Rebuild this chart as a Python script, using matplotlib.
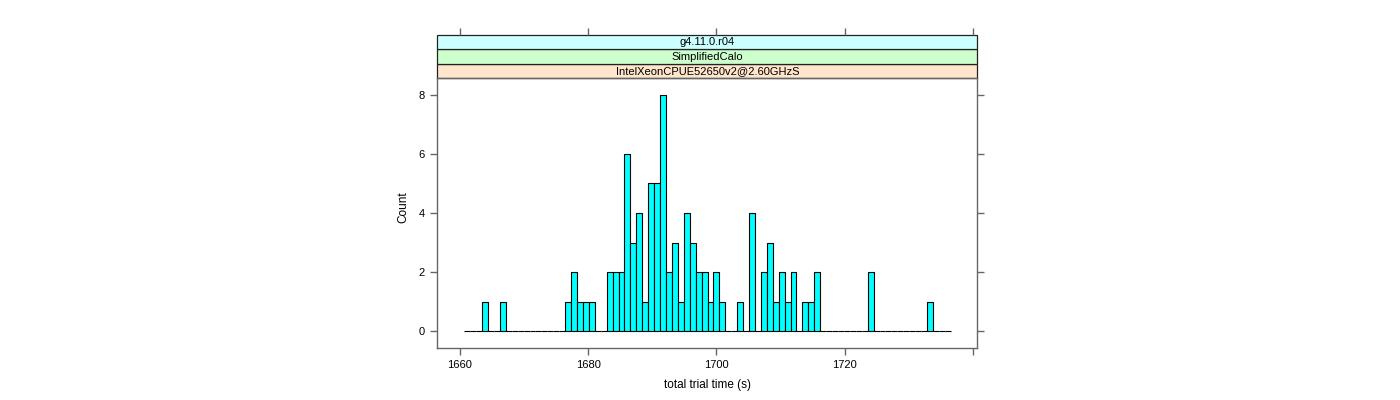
import numpy as np
import matplotlib
matplotlib.use("Agg")
import matplotlib.pyplot as plt
from matplotlib.patches import Rectangle

plt.rcParams['font.family'] = ['Liberation Sans', 'DejaVu Sans']

# histogram bins (seconds) and counts
bin_start = 1660.67
bin_width = 0.9254
counts = [0, 0, 0, 1, 0, 0, 1, 0, 0, 0,
          0, 0, 0, 0, 0, 0, 0, 1, 2, 1,
          1, 1, 0, 0, 2, 2, 2, 6, 3, 4,
          1, 5, 5, 8, 2, 3, 1, 4, 3, 2,
          2, 1, 2, 1, 0, 0, 1, 0, 4, 0,
          2, 3, 1, 2, 1, 2, 0, 1, 1, 2,
          0, 0, 0, 0, 0, 0, 0, 0, 2, 0,
          0, 0, 0, 0, 0, 0, 0, 0, 1, 0,
          0, 0]
x_ticks = [1660, 1680, 1700, 1720, 1740]
x_ticklabels = ["1660", "1680", "1700", "1720", ""]
y_ticks = [0, 2, 4, 6, 8]
strip_labels = ["IntelXeonCPUE52650v2@2.60GHzS", "SimplifiedCalo", "g4.11.0.r04"]
strip_colors = ["#FFE5CC", "#CCFFCC", "#CCFFFF"]

edges = bin_start + bin_width * np.arange(len(counts) + 1)

fig = plt.figure(figsize=(14, 4), dpi=100)
left, right = 437.3 / 1400, 977.3 / 1400
bottom, top = 1 - 347.7 / 400, 1 - 78.3 / 400
strip_top = 1 - 35.0 / 400
ax = fig.add_axes([left, bottom, right - left, top - bottom])

ax.bar(edges[:-1], counts, width=bin_width, align='edge',
       color='#00FFFF', edgecolor='black', linewidth=0.8)

xlim = (1656.46, 1740.7)
ax.set_xlim(*xlim)
ax.set_ylim(-0.554, 8.553)
ax.set_xticks(x_ticks)
ax.set_xticklabels(x_ticklabels)
ax.set_yticks(y_ticks)
ax.tick_params(axis='both', direction='out', length=5, width=1, color='#666666',
               labelsize=8, pad=4)
ax.tick_params(axis='y', right=True, labelright=False)
for s in ax.spines.values():
    s.set_color('#666666')
    s.set_linewidth(1)
ax.set_xlabel("total trial time (s)", fontsize=8.5, labelpad=6)
ax.set_ylabel("Count", fontsize=8.5)
ax.yaxis.set_label_coords(-0.052, 0.52)

# strips above the panel
h_ax = top - bottom
strip_h = (strip_top - top) / len(strip_labels) / h_ax
for i, (lab, col) in enumerate(zip(strip_labels, strip_colors)):
    y0 = 1 + i * strip_h
    ax.add_patch(Rectangle((0, y0), 1, strip_h, transform=ax.transAxes,
                           facecolor=col, edgecolor='#222222', linewidth=0.9,
                           clip_on=False))
    ax.text(0.5, y0 + strip_h / 2, lab, transform=ax.transAxes,
            ha='center', va='center', fontsize=8)

# top ticks sit above the strips
ax_top = fig.add_axes([left, bottom, right - left, strip_top - bottom])
ax_top.set_xlim(*xlim)
ax_top.patch.set_visible(False)
for s in ax_top.spines.values():
    s.set_visible(False)
ax_top.set_xticks(x_ticks)
ax_top.set_yticks([])
ax_top.tick_params(axis='x', bottom=False, labelbottom=False, top=True,
                   direction='out', length=5, width=1, color='#666666')

fig.savefig("out.png", dpi=100)
